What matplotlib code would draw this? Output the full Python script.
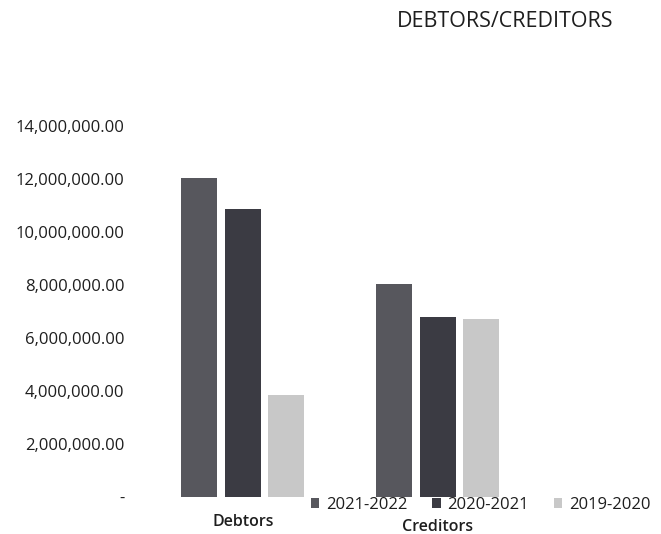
import matplotlib.pyplot as plt
import numpy as np

# data
categories = ['Debtors', 'Creditors']
series = ['2021-2022', '2020-2021', '2019-2020']
v_2021_2022 = [12050000, 8050000]
v_2020_2021 = [10880000, 6800000]
v_2019_2020 = [3830000, 6730000]
yticks = [0, 2000000, 4000000, 6000000, 8000000, 10000000, 12000000, 14000000]

colors = ['#57575d', '#3b3b43', '#c8c8c8']
values = [v_2021_2022, v_2020_2021, v_2019_2020]

plt.rcParams['font.family'] = ['Open Sans', 'DejaVu Sans']
txt = '#1e1e1e'

fig = plt.figure(figsize=(6.61, 5.34), dpi=100)
ax = fig.add_axes([0.22, 0.0693, 0.59, 0.695])

x = np.arange(len(categories))
step = 0.223
width = 0.185
for i, (name, vals) in enumerate(zip(series, values)):
    ax.bar(x + (i - 1) * step, vals, width, color=colors[i], label=name)

ax.set_xlim(-0.5, 1.5)
ax.set_ylim(0, 14000000)
ax.set_yticks(yticks)
ax.set_yticklabels(['-' if t == 0 else f'{t:,.2f}' for t in yticks],
                   fontsize=12, color=txt)
ax.tick_params(axis='y', length=0, pad=15)
ax.set_xticks([])
for s in ax.spines.values():
    s.set_visible(False)

# category labels
ax.text(0, -0.068, categories[0], transform=ax.get_xaxis_transform(),
        ha='center', va='center', fontsize=11.5, color=txt, fontweight='semibold')
ax.text(1, -0.08, categories[1], transform=ax.get_xaxis_transform(),
        ha='center', va='center', fontsize=11.5, color=txt, fontweight='semibold')

fig.suptitle('DEBTORS/CREDITORS', x=0.764, y=0.98, fontsize=15.5, color=txt)

fig.legend(loc='center', bbox_to_anchor=(0.727, 0.054), ncol=3, frameon=False,
           fontsize=12, handlelength=0.5, handleheight=0.5, handletextpad=0.4,
           columnspacing=1.5, labelcolor=txt)

fig.savefig('out.png', dpi=100)
